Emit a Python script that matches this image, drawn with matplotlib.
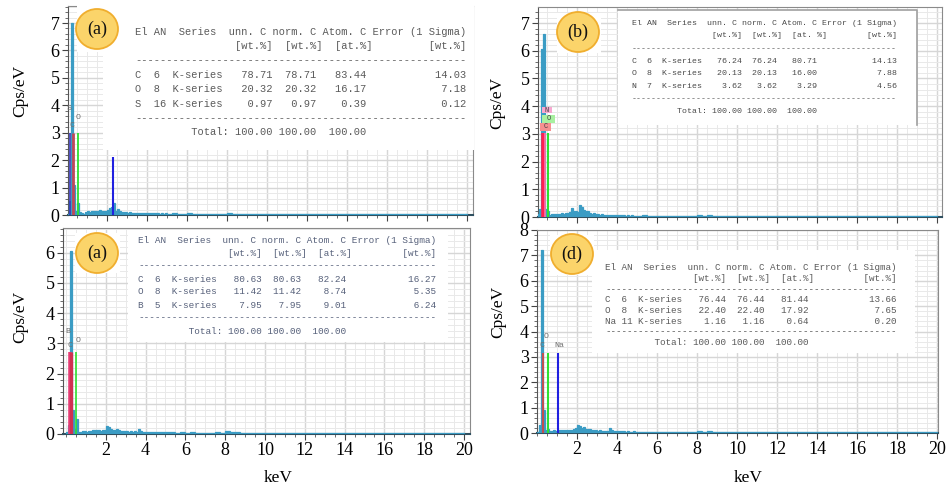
import numpy as np
import matplotlib
matplotlib.use('Agg')
import matplotlib.pyplot as plt
from matplotlib.patches import Rectangle, Ellipse
from matplotlib.ticker import MultipleLocator, FixedLocator

plt.rcParams['font.family'] = ['Liberation Serif', 'DejaVu Serif']
MONO = ['Liberation Mono', 'DejaVu Sans Mono']

W, H = 946, 491

# spectrum bins: 0.1 keV wide up to 5 keV, 0.25 keV wide from 5 to 20 keV
edges = np.round(np.concatenate([np.arange(0, 5.0, 0.1), np.arange(5.0, 20.01, 0.25)]), 3)

# counts (cps/eV), first 50 bins are the 0-5 keV part, then the 5-20 keV tail
cps_a_low = [0.05, 0.50, 7.00, 1.10, 0.15, 0.45, 0.12, 0.06, 0.05, 0.12,
             0.13, 0.11, 0.13, 0.14, 0.16, 0.15, 0.18, 0.16, 0.14, 0.15,
             0.20, 0.24, 0.30, 0.42, 0.14, 0.22, 0.16, 0.12, 0.11, 0.10,
             0.09, 0.10, 0.08, 0.09, 0.08, 0.07, 0.08, 0.07, 0.06, 0.07,
             0.06, 0.07, 0.06, 0.06, 0.07, 0.06, 0.05, 0.06, 0.05, 0.06]
cps_a_tail = [0.05, 0.06, 0.05, 0.05, 0.06, 0.05, 0.05, 0.04,
              0.05, 0.04, 0.05, 0.04, 0.06, 0.05, 0.04, 0.04,
              0.04, 0.05, 0.04, 0.04, 0.04, 0.03, 0.04, 0.04,
              0.03, 0.04, 0.03, 0.03, 0.04, 0.03, 0.03, 0.03,
              0.03, 0.03, 0.03, 0.02, 0.03, 0.03, 0.02, 0.03,
              0.02, 0.03, 0.02, 0.02, 0.03, 0.02, 0.02, 0.02,
              0.02, 0.02, 0.03, 0.02, 0.02, 0.02, 0.02, 0.02,
              0.02, 0.02, 0.02, 0.02]

cps_b_low = [0.10, 0.30, 6.05, 6.60, 0.30, 0.20, 0.08, 0.10, 0.12, 0.11,
             0.12, 0.10, 0.13, 0.12, 0.16, 0.14, 0.18, 0.32, 0.20, 0.22,
             0.18, 0.43, 0.35, 0.25, 0.22, 0.20, 0.14, 0.12, 0.13, 0.10,
             0.11, 0.09, 0.10, 0.08, 0.09, 0.08, 0.07, 0.08, 0.07, 0.07,
             0.06, 0.07, 0.06, 0.06, 0.05, 0.06, 0.05, 0.06, 0.05, 0.05]
cps_b_tail = [0.05, 0.06, 0.05, 0.05, 0.05, 0.04, 0.05, 0.04,
              0.04, 0.05, 0.04, 0.04, 0.07, 0.05, 0.06, 0.04,
              0.04, 0.04, 0.03, 0.04, 0.04, 0.03, 0.03, 0.04,
              0.03, 0.03, 0.04, 0.03, 0.03, 0.03, 0.02, 0.03,
              0.03, 0.02, 0.03, 0.02, 0.02, 0.03, 0.02, 0.02,
              0.02, 0.02, 0.03, 0.02, 0.02, 0.02, 0.02, 0.03,
              0.02, 0.02, 0.02, 0.02, 0.02, 0.03, 0.02, 0.02,
              0.02, 0.02, 0.02, 0.02]

cps_c_low = [0.05, 0.30, 6.05, 0.80, 0.15, 0.50, 0.08, 0.07, 0.09, 0.10,
             0.08, 0.10, 0.11, 0.12, 0.14, 0.12, 0.14, 0.10, 0.12, 0.13,
             0.26, 0.22, 0.16, 0.14, 0.12, 0.15, 0.13, 0.11, 0.10, 0.09,
             0.09, 0.08, 0.09, 0.08, 0.09, 0.08, 0.18, 0.10, 0.07, 0.06,
             0.07, 0.06, 0.06, 0.05, 0.06, 0.06, 0.05, 0.05, 0.06, 0.05]
cps_c_tail = [0.05, 0.05, 0.04, 0.05, 0.04, 0.05, 0.04, 0.04,
              0.04, 0.04, 0.05, 0.04, 0.09, 0.05, 0.06, 0.04,
              0.04, 0.03, 0.04, 0.04, 0.03, 0.04, 0.03, 0.03,
              0.03, 0.03, 0.03, 0.04, 0.03, 0.03, 0.03, 0.02,
              0.03, 0.02, 0.03, 0.02, 0.02, 0.02, 0.03, 0.02,
              0.02, 0.02, 0.02, 0.02, 0.02, 0.02, 0.02, 0.02,
              0.02, 0.02, 0.02, 0.02, 0.02, 0.02, 0.02, 0.02,
              0.02, 0.02, 0.02, 0.02]

cps_d_low = [0.05, 0.30, 7.20, 0.90, 0.12, 0.15, 0.08, 0.09, 0.10, 0.09,
             0.10, 0.11, 0.10, 0.12, 0.11, 0.12, 0.13, 0.12, 0.14, 0.18,
             0.33, 0.28, 0.20, 0.22, 0.16, 0.14, 0.17, 0.12, 0.11, 0.10,
             0.09, 0.10, 0.09, 0.08, 0.09, 0.08, 0.20, 0.12, 0.08, 0.07,
             0.06, 0.07, 0.06, 0.06, 0.05, 0.06, 0.05, 0.05, 0.06, 0.05]
cps_d_tail = [0.05, 0.05, 0.04, 0.05, 0.04, 0.04, 0.05, 0.04,
              0.04, 0.04, 0.04, 0.04, 0.08, 0.04, 0.07, 0.04,
              0.04, 0.03, 0.04, 0.03, 0.03, 0.04, 0.03, 0.03,
              0.03, 0.03, 0.03, 0.03, 0.02, 0.03, 0.03, 0.02,
              0.02, 0.03, 0.02, 0.02, 0.02, 0.02, 0.02, 0.03,
              0.02, 0.02, 0.02, 0.02, 0.02, 0.02, 0.02, 0.02,
              0.02, 0.02, 0.02, 0.02, 0.02, 0.02, 0.02, 0.02,
              0.02, 0.02, 0.02, 0.02]

# element lines: (energy keV, height, colour, width)
lines_a = [(0.149, 3.0, '#3535b8', 1.2), (0.277, 3.0, '#c04858', 2.0),
           (0.525, 3.0, '#30e030', 1.3), (2.307, 2.1, '#2020e0', 1.5)]
lines_b = [(0.277, 3.05, '#ff2050', 2.6), (0.392, 3.05, '#ff70a8', 1.2),
           (0.525, 3.05, '#30e030', 1.5)]
lines_c = [(0.183, 2.7, '#e8407a', 2.6), (0.277, 2.7, '#d03050', 2.4),
           (0.525, 2.7, '#30e030', 1.2)]
lines_d = [(0.277, 3.15, '#c05050', 1.5), (0.525, 3.15, '#30e030', 1.5),
           (1.041, 3.15, '#2020e0', 1.5)]

# element tags next to the lines: (text, keV, cps)
tags_a = [('S', 0.10, 3.9), ('C', 0.25, 3.25), ('O', 0.55, 3.55)]
tags_c = [('B', 0.08, 3.4), ('C', 0.22, 2.92), ('O', 0.62, 3.1)]
tags_d = [('C', 0.25, 3.45), ('O', 0.48, 3.8), ('Na', 1.10, 3.45)]
# boxed tags: (text, x0, x1, y0, y1, colour)
boxes_b = [('N', 0.23, 0.73, 3.74, 3.97, '#f7a8d0'),
           ('O', 0.23, 0.90, 3.40, 3.68, '#a8f0a0'),
           ('C', 0.15, 0.68, 3.12, 3.38, '#f59090')]

# quantification tables
el_a = ['C', 'O', 'S'];  an_a = [6, 8, 16]
unn_a = [78.71, 20.32, 0.97]; norm_a = [78.71, 20.32, 0.97]
atom_a = [83.44, 16.17, 0.39]; err_a = [14.03, 7.18, 0.12]

el_b = ['C', 'O', 'N'];  an_b = [6, 8, 7]
unn_b = [76.24, 20.13, 3.62]; norm_b = [76.24, 20.13, 3.62]
atom_b = [80.71, 16.00, 3.29]; err_b = [14.13, 7.88, 4.56]

el_c = ['C', 'O', 'B'];  an_c = [6, 8, 5]
unn_c = [80.63, 11.42, 7.95]; norm_c = [80.63, 11.42, 7.95]
atom_c = [82.24, 8.74, 9.01]; err_c = [16.27, 5.35, 6.24]

el_d = ['C', 'O', 'Na']; an_d = [6, 8, 11]
unn_d = [76.44, 22.40, 1.16]; norm_d = [76.44, 22.40, 1.16]
atom_d = [81.44, 17.92, 0.64]; err_d = [13.66, 7.65, 0.20]

# printed totals (unn, norm, atom)
total = [100.00, 100.00, 100.00]

panel_tags = ['(a)', '(b)', '(a)', '(d)']


def table_rows(el, an, unn, norm, atom, err, at_unit='[at.%]  '):
    rows = ['El AN  Series  unn. C norm. C Atom. C Error (1 Sigma)',
            ' ' * 16 + '[wt.%]  [wt.%]  ' + at_unit + ' ' * 7 + '[wt.%]',
            '-' * 53]
    for i in range(len(el)):
        rows.append(f'{el[i]:<3}{an[i]:<3}K-series{unn[i]:>8.2f}{norm[i]:>7.2f}'
                    f'{atom[i]:>8.2f}{err[i]:>16.2f}')
    rows.append('-' * 53)
    rows.append(' ' * 9 + 'Total:' + f'{total[0]:>7.2f}{total[1]:>7.2f}{total[2]:>8.2f}')
    return rows


def px_rect(l, t, r, b):
    return [l / W, 1 - b / H, (r - l) / W, (b - t) / H]


fig = plt.figure(figsize=(W / 100, H / 100), dpi=100)

panels = [
    dict(box=(68, 6, 473, 215), xlim=(0.05, 20.3), ymax=7.62,
         cps=cps_a_low + cps_a_tail, lines=lines_a, tags=tags_a, xlab=False),
    dict(box=(538, 7, 942, 217), xlim=(0.05, 20.25), ymax=7.58,
         cps=cps_b_low + cps_b_tail, lines=lines_b, tags=[], xlab=False),
    dict(box=(63, 228, 470, 434), xlim=(-0.15, 20.3), ymax=6.82,
         cps=cps_c_low + cps_c_tail, lines=lines_c, tags=tags_c, xlab=True),
    dict(box=(537, 230, 938, 433), xlim=(0.0, 20.05), ymax=8.0,
         cps=cps_d_low + cps_d_tail, lines=lines_d, tags=tags_d, xlab=True),
]

spec_col = '#3b9cc4'
axes = []
for p in panels:
    ax = fig.add_axes(px_rect(*p['box']), zorder=0)
    ax.stairs(p['cps'], edges, fill=True, color=spec_col, lw=0, zorder=3)
    ax.stairs(p['cps'], edges, color=spec_col, lw=0.9, zorder=3)
    for e, h, c, w in p['lines']:
        ax.plot([e, e], [0, h], color=c, lw=w, zorder=4, solid_capstyle='butt')
    for s, x, y in p['tags']:
        ax.text(x, y, s, family=MONO, fontsize=6, color='#707070',
                ha='center', va='center', zorder=5)
    ax.set_xlim(*p['xlim'])
    ax.set_ylim(0, p['ymax'])
    ax.xaxis.set_major_locator(FixedLocator(list(range(2, 21, 2))))
    ax.xaxis.set_minor_locator(MultipleLocator(0.5))
    ax.yaxis.set_major_locator(MultipleLocator(1))
    ax.yaxis.set_minor_locator(MultipleLocator(0.2))
    ax.grid(which='major', color='#d6d6d6', lw=1.0)
    ax.grid(which='minor', color='#e9e9e9', lw=0.7)
    ax.set_axisbelow(True)
    ax.tick_params(which='major', direction='out', length=4, width=0.8,
                   color='#444444', labelsize=13, pad=2)
    ax.tick_params(which='minor', direction='out', length=2.5, width=0.6,
                   color='#555555')
    ax.tick_params(axis='x', labelbottom=p['xlab'])
    ax.spines['left'].set_color('#555555')
    ax.spines['bottom'].set_color('#2f5060')
    ax.spines['bottom'].set_linewidth(1.5)
    ax.spines['top'].set_color('#8a8a8a')
    ax.spines['right'].set_color('#8a8a8a')
    axes.append(ax)

for s, x0, x1, y0, y1, c in boxes_b:
    axes[1].add_patch(Rectangle((x0, y0), x1 - x0, y1 - y0, facecolor=c,
                                edgecolor='none', zorder=6))
    axes[1].text((x0 + x1) / 2, (y0 + y1) / 2, s, family=MONO, fontsize=5,
                 color='#404040', ha='center', va='center', zorder=7)

# overlay in pixel coordinates for the tables, tags and axis titles
ov = fig.add_axes([0, 0, 1, 1], zorder=10)
ov.set_xlim(0, W)
ov.set_ylim(H, 0)
ov.axis('off')
ov.patch.set_alpha(0)

tables = [
    dict(rect=(103, 3, 474, 150), x=135, y0=32, dy=14.3, width=330,
         rows=table_rows(el_a, an_a, unn_a, norm_a, atom_a, err_a), color='#5a5a5a'),
    dict(rect=(618, 10, 917, 125), x=632, y0=23, dy=12.7, width=261,
         rows=table_rows(el_b, an_b, unn_b, norm_b, atom_b, err_b, '[at. %] '), color='#4a4a4a'),
    dict(rect=(128, 230, 448, 342), x=138, y0=240, dy=13.0, width=299,
         rows=table_rows(el_c, an_c, unn_c, norm_c, atom_c, err_c), color='#56607a'),
    dict(rect=(592, 250, 915, 353), x=605, y0=268, dy=10.6, width=295,
         rows=table_rows(el_d, an_d, unn_d, norm_d, atom_d, err_d), color='#5a5a5a'),
]

for i, t in enumerate(tables):
    l, tp, r, b = t['rect']
    ov.add_patch(Rectangle((l, tp), r - l, b - tp, facecolor='white', edgecolor='none'))
    if i == 1:
        ov.plot([l, r, r], [tp, tp, b], color='#a0a0a0', lw=1.2)
    fs = t['width'] / (53 * 0.6) * 0.72
    for k, row in enumerate(t['rows']):
        ov.text(t['x'], t['y0'] + k * t['dy'], row, family=MONO, fontsize=fs,
                color=t['color'], ha='left', va='center')

# panel tags in yellow discs on a white patch (patch kept clear of the C peak)
discs = [(97, 29, 77, 3, 122, 52), (578, 32, 557, 13, 601, 53),
         (97, 253, 75, 233, 120, 273), (572, 254, 550, 235, 594, 275)]
for (cx, cy, l, tp, r, b), lab in zip(discs, panel_tags):
    ov.add_patch(Rectangle((l, tp), r - l, b - tp, facecolor='white', edgecolor='none'))
    ov.add_patch(Ellipse((cx, cy), 42, 40, facecolor='#fbd46a', edgecolor='#f0ae2e', lw=1.3))
    ov.text(cx, cy, lab, fontsize=13, ha='center', va='center', color='#111111')

# axis titles
for x, y in [(20, 91), (497, 103), (20, 317), (498, 312)]:
    ov.text(x, y, 'Cps/eV', fontsize=12.5, rotation=90, ha='center', va='center')
for x, y in [(278, 478), (748, 478)]:
    ov.text(x, y, 'keV', fontsize=12.5, ha='center', va='center')

fig.savefig('out.png', dpi=100)
